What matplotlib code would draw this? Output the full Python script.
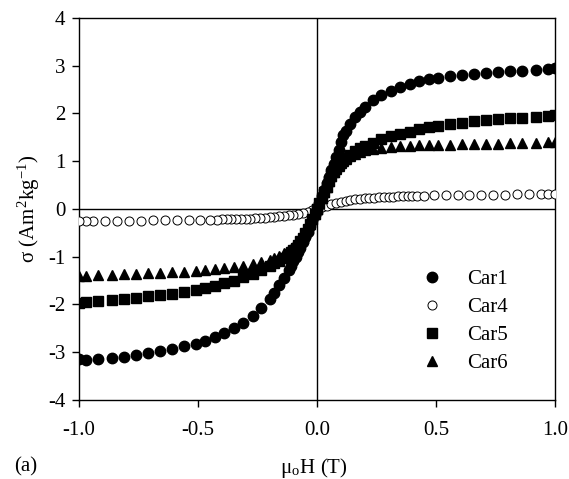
import matplotlib
matplotlib.use("Agg")
import matplotlib.pyplot as plt

# applied field values (T) for Car1, Car5, Car6
x_pos = [0.0, 0.01, 0.02, 0.03, 0.04, 0.05, 0.06, 0.07, 0.08, 0.09, 0.10, 0.11, 0.12,
         0.14, 0.16, 0.18, 0.20, 0.235, 0.27, 0.31, 0.35, 0.39, 0.43, 0.47, 0.51,
         0.56, 0.61, 0.66, 0.71, 0.76, 0.81, 0.86, 0.92, 0.97, 1.0]
x_neg = [-0.0, -0.01, -0.02, -0.03, -0.04, -0.05, -0.06, -0.07, -0.08, -0.09, -0.10, -0.11, -0.12,
         -0.14, -0.16, -0.18, -0.20, -0.235, -0.27, -0.31, -0.35, -0.39, -0.43, -0.47, -0.51,
         -0.56, -0.61, -0.66, -0.71, -0.76, -0.81, -0.86, -0.92, -0.97, -1.0]

# Car4 was measured on a denser field grid
x4_pos = [0.0, 0.02, 0.04, 0.06, 0.08, 0.10, 0.12, 0.14, 0.16, 0.18, 0.20, 0.22, 0.24,
          0.26, 0.28, 0.30, 0.32, 0.34, 0.36, 0.38, 0.40, 0.42, 0.45, 0.49, 0.54,
          0.59, 0.64, 0.69, 0.74, 0.79, 0.84, 0.89, 0.94, 0.97, 1.0]
x4_neg = [-0.0, -0.02, -0.04, -0.06, -0.08, -0.10, -0.12, -0.14, -0.16, -0.18, -0.20, -0.22, -0.24,
          -0.26, -0.28, -0.30, -0.32, -0.34, -0.36, -0.38, -0.40, -0.42, -0.45, -0.49, -0.54,
          -0.59, -0.64, -0.69, -0.74, -0.79, -0.84, -0.89, -0.94, -0.97, -1.0]

car1_pos = [0.0, 0.13, 0.27, 0.40, 0.54, 0.67, 0.81, 0.95, 1.09, 1.23, 1.40, 1.55, 1.63,
            1.78, 1.92, 2.04, 2.14, 2.28, 2.38, 2.46, 2.55, 2.62, 2.68, 2.72, 2.75,
            2.79, 2.81, 2.83, 2.85, 2.87, 2.89, 2.89, 2.91, 2.94, 2.95]
car1_neg = [0.0, -0.12, -0.24, -0.36, -0.48, -0.59, -0.70, -0.81, -0.91, -1.01, -1.10, -1.19, -1.28,
            -1.45, -1.60, -1.75, -1.88, -2.07, -2.24, -2.38, -2.50, -2.60, -2.69, -2.76, -2.83,
            -2.88, -2.93, -2.98, -3.02, -3.06, -3.09, -3.12, -3.14, -3.16, -3.15]

car4_pos = [0.0, 0.04, 0.07, 0.10, 0.125, 0.15, 0.17, 0.19, 0.20, 0.21, 0.22, 0.23, 0.24,
            0.245, 0.25, 0.26, 0.26, 0.265, 0.27, 0.27, 0.275, 0.28, 0.28, 0.285, 0.29,
            0.29, 0.295, 0.30, 0.30, 0.30, 0.305, 0.31, 0.31, 0.31, 0.31]
car4_neg = [0.0, -0.03, -0.06, -0.08, -0.10, -0.12, -0.13, -0.145, -0.155, -0.165, -0.175, -0.18, -0.19,
            -0.195, -0.20, -0.205, -0.21, -0.21, -0.215, -0.22, -0.22, -0.225, -0.23, -0.23, -0.235,
            -0.24, -0.24, -0.24, -0.245, -0.245, -0.25, -0.25, -0.25, -0.25, -0.25]

car5_pos = [0.0, 0.12, 0.24, 0.36, 0.47, 0.58, 0.68, 0.77, 0.85, 0.92, 0.98, 1.03, 1.07,
            1.14, 1.21, 1.27, 1.32, 1.39, 1.46, 1.52, 1.57, 1.62, 1.67, 1.71, 1.74,
            1.78, 1.81, 1.84, 1.86, 1.88, 1.90, 1.91, 1.93, 1.95, 1.97]
car5_neg = [0.0, -0.11, -0.22, -0.32, -0.42, -0.51, -0.60, -0.68, -0.75, -0.81, -0.86, -0.91, -0.95,
            -1.02, -1.08, -1.14, -1.20, -1.28, -1.36, -1.43, -1.50, -1.56, -1.61, -1.66, -1.70,
            -1.74, -1.78, -1.81, -1.83, -1.86, -1.88, -1.90, -1.93, -1.95, -1.96]

car6_pos = [0.0, 0.12, 0.24, 0.36, 0.47, 0.58, 0.68, 0.77, 0.84, 0.91, 0.96, 1.01, 1.05,
            1.11, 1.16, 1.20, 1.23, 1.26, 1.28, 1.30, 1.31, 1.32, 1.33, 1.34, 1.35,
            1.35, 1.36, 1.36, 1.36, 1.37, 1.38, 1.38, 1.39, 1.40, 1.41]
car6_neg = [0.0, -0.11, -0.22, -0.32, -0.42, -0.50, -0.58, -0.65, -0.71, -0.76, -0.80, -0.84, -0.87,
            -0.93, -0.98, -1.02, -1.06, -1.11, -1.15, -1.19, -1.22, -1.24, -1.26, -1.28, -1.30,
            -1.32, -1.33, -1.34, -1.35, -1.36, -1.37, -1.38, -1.39, -1.40, -1.40]

labels = ["Car1", "Car4", "Car5", "Car6"]


def main():
    plt.rcParams.update({
        "font.family": "serif",
        "font.serif": ["Liberation Serif", "DejaVu Serif"],
        "mathtext.fontset": "stix",
        "font.size": 15,
    })

    fig = plt.figure(figsize=(5.69, 4.79), dpi=100)
    ax = fig.add_axes([0.139, 0.165, 0.8366, 0.7975])

    ax.axhline(0, color="black", linewidth=1.0, zorder=1)
    ax.axvline(0, color="black", linewidth=1.0, zorder=1)

    series = [
        (x_pos + x_neg, car1_pos + car1_neg, dict(marker="o", mfc="black", mec="black", ms=7.5)),
        (x4_pos + x4_neg, car4_pos + car4_neg, dict(marker="o", mfc="white", mec="black", ms=6.5, mew=0.7)),
        (x_pos + x_neg, car5_pos + car5_neg, dict(marker="s", mfc="black", mec="black", ms=6.5)),
        (x_pos + x_neg, car6_pos + car6_neg, dict(marker="^", mfc="black", mec="black", ms=7.5)),
    ]
    for (xs, ys, style), lab in zip(series, labels):
        ax.plot(xs, ys, linestyle="none", label=lab, zorder=3, **style)

    ax.set_xlim(-1.0, 1.0)
    ax.set_ylim(-4, 4)
    ax.set_xticks([-1.0, -0.5, 0.0, 0.5, 1.0])
    ax.set_xticklabels(["-1.0", "-0.5", "0.0", "0.5", "1.0"])
    ax.set_yticks([-4, -3, -2, -1, 0, 1, 2, 3, 4])
    ax.set_yticklabels(["-4", "-3", "-2", "-1", "0", "1", "2", "3", "4"])
    ax.tick_params(direction="out", length=5, width=1, labelsize=15)
    ax.tick_params(axis="x", pad=10)
    ax.tick_params(axis="y", pad=5)
    for sp in ax.spines.values():
        sp.set_linewidth(1.0)

    ax.set_ylabel(r"σ (Am$^\mathregular{2}$kg$^\mathregular{-1}$)", fontsize=15, labelpad=4)
    fig.text(0.552, 0.022, r"μ$_\mathregular{o}$H (T)", fontsize=15, ha="center", va="center")
    fig.text(0.025, 0.025, "(a)", fontsize=15, ha="left", va="center")

    ax.legend(loc="center left", bbox_to_anchor=(0.676, 0.206), frameon=False,
              fontsize=15, handletextpad=1.1, labelspacing=0.4, handlelength=1.2,
              numpoints=1)

    fig.savefig("out.png", dpi=100)


if __name__ == "__main__":
    main()
